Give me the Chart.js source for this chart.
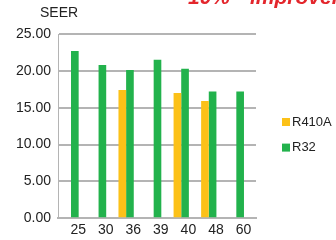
<!doctype html>
<html>
<head>
    <title>SEER R410A vs R32</title>
    <script src="https://cdn.jsdelivr.net/npm/chart.js@4.4.0/dist/chart.umd.min.js"></script>
    <style>
    body { margin: 0; background: #fff; }
    </style>
</head>
<body>
    <canvas id="canvas" width="336" height="240"></canvas>
    <script>
    var categories = ['25', '30', '36', '39', '40', '48', '60'];
    var r410a = [null, null, 17.4, null, 17.0, 15.9, null];
    var r32 = [22.7, 20.8, 20.1, 21.5, 20.3, 17.2, 17.2];
    var yTicks = [0, 5, 10, 15, 20, 25];

    var font = 'Liberation Sans, Arial, Helvetica, sans-serif';
    var gridColor = '#b4b4b4';

    var toPoints = function(values) {
        return values.map(function(v, i) {
            return {x: i, y: v};
        });
    };

    // axis caption, red headline (cut at top) and side legend
    var extras = {
        id: 'extras',
        afterDraw: function(chart) {
            var ctx = chart.ctx;
            var area = chart.chartArea;
            ctx.save();
            ctx.fillStyle = '#222';
            ctx.font = '14px ' + font;
            ctx.textAlign = 'center';
            ctx.textBaseline = 'middle';
            ctx.fillText('SEER', area.left + 1, 13);

            ctx.fillStyle = '#e3262c';
            ctx.font = 'italic bold 21px ' + font;
            ctx.textAlign = 'left';
            ctx.textBaseline = 'alphabetic';
            ctx.fillText('10%', 188, 4);
            ctx.fillText('improvement', 250, 4);

            ctx.font = '13px ' + font;
            ctx.textBaseline = 'middle';
            chart.data.datasets.forEach(function(ds, i) {
                var cy = area.top + 88 + i * 25.6;
                ctx.fillStyle = ds.backgroundColor;
                ctx.fillRect(282, cy - 4, 8, 8);
                ctx.fillStyle = '#222';
                ctx.fillText(ds.label, 292, cy);
            });
            ctx.restore();
        }
    };

    var config = {
        type: 'bar',
        data: {
            datasets: [{
                label: 'R410A',
                backgroundColor: '#fcc118',
                data: toPoints(r410a)
            }, {
                label: 'R32',
                backgroundColor: '#22b24c',
                data: toPoints(r32)
            }]
        },
        options: {
            responsive: false,
            animation: false,
            barPercentage: 1,
            categoryPercentage: 0.555,
            layout: {
                padding: {left: 9, top: 34, right: 80, bottom: -3}
            },
            plugins: {
                legend: {display: false},
                tooltip: {enabled: false}
            },
            scales: {
                x: {
                    type: 'linear',
                    offset: false,
                    min: -0.471,
                    max: 6.714,
                    afterBuildTicks: function(scale) {
                        scale.ticks = categories.map(function(c, i) {
                            return {value: i + 0.26};
                        });
                    },
                    grid: {display: false, drawTicks: false},
                    border: {display: true, color: gridColor, width: 2},
                    ticks: {
                        padding: 4,
                        color: '#222',
                        font: {family: font, size: 14},
                        maxRotation: 0,
                        callback: function(value, index) {
                            return categories[index];
                        }
                    }
                },
                y: {
                    min: 0,
                    max: 25,
                    afterBuildTicks: function(scale) {
                        scale.ticks = yTicks.map(function(v) {
                            return {value: v};
                        });
                    },
                    grid: {color: gridColor, lineWidth: 2, drawTicks: false},
                    border: {display: true, color: gridColor, width: 1},
                    ticks: {
                        padding: 7,
                        color: '#222',
                        font: {family: font, size: 14},
                        callback: function(value) {
                            return value.toFixed(2);
                        }
                    }
                }
            }
        },
        plugins: [extras]
    };

    window.myBar = new Chart(document.getElementById('canvas'), config);
    </script>
</body>
</html>
